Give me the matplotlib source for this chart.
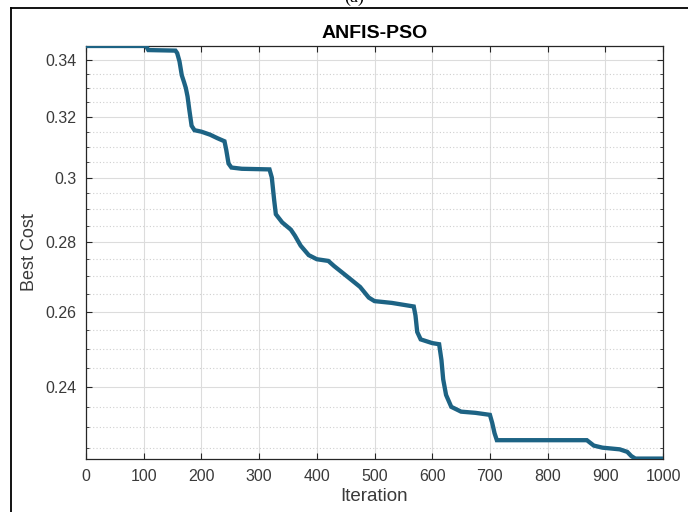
import numpy as np
import matplotlib.pyplot as plt
from matplotlib.ticker import FixedLocator, FixedFormatter, NullFormatter

plt.rcParams["font.family"] = ["Liberation Sans", "DejaVu Sans"]

# convergence history (iteration, best cost)
iterations = [0, 104, 108, 155, 158, 162, 166, 170, 173, 176, 179, 183, 188, 200,
              215, 228, 240, 243, 247, 252, 270, 318, 322, 326, 329, 340, 355,
              362, 372, 386, 400, 420, 430, 445, 460, 475, 490, 500, 530, 568,
              571, 574, 580, 600, 612, 616, 619, 624, 633, 650, 675, 700, 704,
              708, 712, 868, 880, 895, 925, 938, 945, 952, 1000]
best_cost = [0.3451, 0.3451, 0.3436, 0.3434, 0.3425, 0.3395, 0.3345, 0.3320,
             0.3300, 0.3270, 0.3225, 0.3170, 0.3155, 0.3150, 0.3140, 0.3128,
             0.3118, 0.3090, 0.3045, 0.3032, 0.3028, 0.3026, 0.3000, 0.2930,
             0.2885, 0.2860, 0.2838, 0.2820, 0.2790, 0.2762, 0.2750, 0.2745,
             0.2730, 0.2710, 0.2690, 0.2670, 0.2640, 0.2630, 0.2625, 0.2615,
             0.2590, 0.2545, 0.2525, 0.2515, 0.2512, 0.2470, 0.2420, 0.2380,
             0.2350, 0.2338, 0.2335, 0.2330, 0.2310, 0.2285, 0.2268, 0.2268,
             0.2255, 0.2250, 0.2246, 0.2240, 0.2230, 0.2224, 0.2224]

x_ticks = [0, 100, 200, 300, 400, 500, 600, 700, 800, 900, 1000]
y_ticks = [0.24, 0.26, 0.28, 0.30, 0.32, 0.34]
y_tick_labels = ["0.24", "0.26", "0.28", "0.3", "0.32", "0.34"]

fig = plt.figure(figsize=(6.88, 5.12), dpi=100)
ax = fig.add_axes([0.125, 0.1035, 0.8387, 0.8067])

ax.plot(iterations, best_cost, color="#1d6384", linewidth=3.1,
        solid_joinstyle="miter", zorder=3)

ax.set_yscale("log")
ax.set_xlim(0, 1000)
ax.set_ylim(0.2223, 0.3451)

ax.xaxis.set_major_locator(FixedLocator(x_ticks))
ax.yaxis.set_major_locator(FixedLocator(y_ticks))
ax.yaxis.set_major_formatter(FixedFormatter(y_tick_labels))
minor = [v for v in np.arange(0.225, 0.3451, 0.005)
         if not any(abs(v - t) < 1e-6 for t in y_ticks)]
ax.yaxis.set_minor_locator(FixedLocator(minor))
ax.yaxis.set_minor_formatter(NullFormatter())
ax.xaxis.set_minor_locator(FixedLocator([]))

ax.grid(True, which="major", color="#dcdcdc", linewidth=0.8, linestyle="-")
ax.grid(True, which="minor", axis="y", color="#cfcfcf", linewidth=0.8,
        linestyle=(0, (1, 2)))
ax.set_axisbelow(True)

ax.tick_params(which="both", direction="in", top=True, right=True,
               colors="#262626", labelsize=11.5)
ax.tick_params(which="major", length=4, width=0.8, pad=7)
ax.tick_params(which="minor", length=2.5, width=0.6)
ax.tick_params(axis="both", labelcolor="#3a3a3a")
for s in ax.spines.values():
    s.set_color("#262626")
    s.set_linewidth(0.9)

ax.set_xlabel("Iteration", fontsize=13.5, color="#3a3a3a", labelpad=3)
ax.set_ylabel("Best Cost", fontsize=13, color="#3a3a3a", labelpad=5)
ax.set_title("ANFIS-PSO", fontsize=14, fontweight="bold", pad=6)

# panel frame and caption
fig.add_artist(plt.Line2D([11 / 688, 1], [1 - 8 / 512] * 2, color="black",
                          linewidth=1.3, transform=fig.transFigure))
fig.add_artist(plt.Line2D([11 / 688] * 2, [0, 1 - 8 / 512], color="black",
                          linewidth=1.3, transform=fig.transFigure))
fig.text(354 / 688, 1 - 6 / 512, "(a)", ha="center", va="bottom",
         fontsize=13, family="Liberation Serif")

fig.savefig("out.png", dpi=100)
